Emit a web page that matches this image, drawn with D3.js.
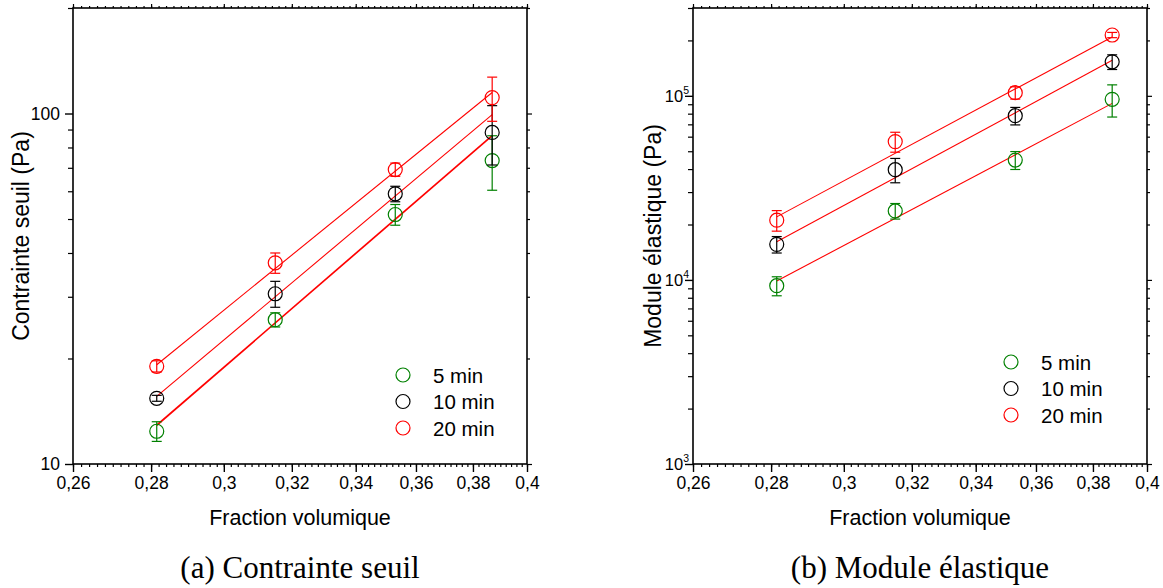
<!DOCTYPE html>
<html><head><meta charset="utf-8">
<script src="https://cdn.jsdelivr.net/npm/d3@7"></script>
<style>body{margin:0;background:#fff} svg{display:block;font-family:"Liberation Sans",Arial,sans-serif}</style>
</head><body>
<svg id="c" width="1163" height="588"></svg>
<script>
// ---------- data ----------
const xValues = [0.2815, 0.315, 0.353, 0.387];
const seriesNames = ["5 min", "10 min", "20 min"];
const seriesColors = ["#008000", "#000000", "#ff0000"];

// (a) Contrainte seuil (Pa)
const seuil5 = [12.4, 25.8, 51.5, 73.4];
const seuil5Err = [0.8, 1.2, 3.5, 13];
const seuil10 = [15.4, 30.6, 59.0, 88.3];
const seuil10Err = [0.3, 2.6, 3, 17];
const seuil20 = [19.0, 37.5, 69.2, 111];
const seuil20Err = [0.7, 2.5, 3, 16];

// (b) Module élastique (Pa)
const module5 = [9300, 23700, 44800, 95700];
const module5Err = [1100, 2300, 5000, 19000];
const module10 = [15600, 39700, 78000, 153000];
const module10Err = [1600, 6000, 8500, 14000];
const module20 = [21100, 56400, 104000, 214000];
const module20Err = [2700, 7000, 8000, 7000];

// fitted lines (end values)
const fitX = [0.2815, 0.387];
const fitSeuil5 = [12.9, 86.5];
const fitSeuil10 = [15.6, 99.3];
const fitSeuil20 = [19.2, 114.8];
const fitModule5 = [9860, 91000];
const fitModule10 = [16100, 156000];
const fitModule20 = [22000, 209000];

// ticks
const xTicks = [0.26, 0.28, 0.30, 0.32, 0.34, 0.36, 0.38, 0.40];
const xTickLabels = ["0,26", "0,28", "0,3", "0,32", "0,34", "0,36", "0,38", "0,4"];
const xMinorTicks = d3.range(130, 201).map(i => i / 500);
const seuilTicks = [10, 100];
const seuilTickLabels = ["10", "100"];
const seuilMinor = [20, 30, 40, 50, 60, 70, 80, 90, 200];
const moduleTicks = [1e3, 1e4, 1e5];
const moduleTickExp = ["3", "4", "5"];
const moduleMinor = [2e3,3e3,4e3,5e3,6e3,7e3,8e3,9e3,2e4,3e4,4e4,5e4,6e4,7e4,8e4,9e4,2e5,3e5];

// ---------- drawing ----------
const svg = d3.select("#c");
const yTop = 8, yBot = 464;

function panel(cfg) {
  const g = svg.append("g");
  const x = d3.scaleLog().domain([0.26, 0.4]).range([cfg.x0, cfg.x1]);
  const y = d3.scaleLog().domain(cfg.yDomain).range([yBot, yTop]);

  function tickAxis(axis, transform, size, vals) {
    const a = g.append("g").attr("transform", transform)
      .call(axis.tickValues(vals).tickSize(size).tickFormat(""));
    a.select(".domain").remove();
    a.selectAll("line").attr("stroke", "#000").attr("stroke-width", 1.2);
    return a;
  }
  // bottom
  tickAxis(d3.axisBottom(x), `translate(0,${yBot})`, 3, xMinorTicks);
  const bx = g.append("g").attr("transform", `translate(0,${yBot})`)
    .call(d3.axisBottom(x).tickValues(xTicks).tickSize(8).tickPadding(5)
      .tickFormat((d, i) => xTickLabels[i]));
  bx.select(".domain").remove();
  bx.selectAll("line").attr("stroke", "#000").attr("stroke-width", 1.4);
  bx.selectAll("text").attr("font-size", 17.5).attr("fill", "#000")
    .attr("font-family", "Liberation Sans, Arial, sans-serif");
  // top
  tickAxis(d3.axisTop(x), `translate(0,${yTop})`, 2, xMinorTicks);
  tickAxis(d3.axisTop(x), `translate(0,${yTop})`, 4, xTicks);
  // left
  tickAxis(d3.axisLeft(y), `translate(${cfg.x0},0)`, 5, cfg.minor);
  const ly = g.append("g").attr("transform", `translate(${cfg.x0},0)`)
    .call(d3.axisLeft(y).tickValues(cfg.major).tickSize(8).tickPadding(5)
      .tickFormat(cfg.sup ? () => "" : (d, i) => cfg.majorLabels[i]));
  ly.select(".domain").remove();
  ly.selectAll("line").attr("stroke", "#000").attr("stroke-width", 1.4);
  ly.selectAll("text").attr("font-size", 17.5).attr("fill", "#000")
    .attr("font-family", "Liberation Sans, Arial, sans-serif");
  if (cfg.sup) {
    cfg.major.forEach((v, i) => {
      const t = g.append("text").attr("x", cfg.x0 - 4).attr("y", y(v) + 6)
        .attr("text-anchor", "end").attr("font-size", 16.5);
      t.append("tspan").text("10");
      t.append("tspan").attr("font-size", 10.5).attr("dy", -8).text(cfg.majorLabels[i]);
    });
  }
  // right
  tickAxis(d3.axisRight(y), `translate(${cfg.x1},0)`, 3, cfg.minor);
  tickAxis(d3.axisRight(y), `translate(${cfg.x1},0)`, 5, cfg.major);

  // frame
  g.append("rect").attr("x", cfg.x0).attr("y", yTop)
    .attr("width", cfg.x1 - cfg.x0).attr("height", yBot - yTop)
    .attr("fill", "none").attr("stroke", "#000").attr("stroke-width", 1.6);

  // fit lines
  const line = d3.line().x((d, i) => x(fitX[i])).y(d => y(d));
  cfg.fits.forEach((f, k) => {
    g.append("path").attr("d", line(f)).attr("fill", "none")
      .attr("stroke", "#ff0000").attr("stroke-width", k === 0 && cfg.thickFirst ? 1.7 : 1.1);
  });

  // points with error bars
  cfg.series.forEach((s, k) => {
    const col = seriesColors[k];
    const sg = g.append("g").attr("stroke", col).attr("fill", "none").attr("stroke-width", 1.2);
    s.vals.forEach((v, i) => {
      const cx = x(xValues[i]);
      const yt = y(v + s.err[i]), yb = y(v - s.err[i]);
      sg.append("line").attr("x1", cx).attr("x2", cx).attr("y1", yt).attr("y2", yb);
      sg.append("line").attr("x1", cx - 5).attr("x2", cx + 5).attr("y1", yt).attr("y2", yt);
      sg.append("line").attr("x1", cx - 5).attr("x2", cx + 5).attr("y1", yb).attr("y2", yb);
      sg.append("circle").attr("cx", cx).attr("cy", y(v)).attr("r", 7);
    });
  });

  // legend
  seriesNames.forEach((n, k) => {
    const ly0 = cfg.legY + k * 26.5;
    g.append("circle").attr("cx", cfg.legX).attr("cy", ly0).attr("r", 7)
      .attr("fill", "none").attr("stroke", seriesColors[k]).attr("stroke-width", 1.2);
    g.append("text").attr("x", cfg.legX + 30).attr("y", ly0 + 7.5)
      .attr("font-size", 20.5).text(n);
  });

  // axis titles
  g.append("text").attr("x", (cfg.x0 + cfg.x1) / 2).attr("y", 525)
    .attr("text-anchor", "middle").attr("font-size", 21.5).text("Fraction volumique");
  g.append("text").attr("transform", `translate(${cfg.yTitleX},${(yTop + yBot) / 2}) rotate(-90)`)
    .attr("text-anchor", "middle").attr("font-size", 23).text(cfg.yTitle);
  // caption
  g.append("text").attr("x", (cfg.x0 + cfg.x1) / 2).attr("y", 578)
    .attr("text-anchor", "middle").attr("font-size", 31)
    .attr("font-family", "Liberation Serif, Times New Roman, serif").text(cfg.caption);
}

panel({
  x0: 73, x1: 527, yDomain: [10, 200],
  major: seuilTicks, majorLabels: seuilTickLabels, minor: seuilMinor, sup: false, thickFirst: true,
  fits: [fitSeuil5, fitSeuil10, fitSeuil20],
  series: [{vals: seuil5, err: seuil5Err}, {vals: seuil10, err: seuil10Err}, {vals: seuil20, err: seuil20Err}],
  legX: 403, legY: 375,
  yTitle: "Contrainte seuil (Pa)", yTitleX: 29,
  caption: "(a) Contrainte seuil"
});
panel({
  x0: 693, x1: 1147, yDomain: [1e3, 3e5],
  major: moduleTicks, majorLabels: moduleTickExp, minor: moduleMinor, sup: true, thickFirst: false,
  fits: [fitModule5, fitModule10, fitModule20],
  series: [{vals: module5, err: module5Err}, {vals: module10, err: module10Err}, {vals: module20, err: module20Err}],
  legX: 1011, legY: 362,
  yTitle: "Module élastique (Pa)", yTitleX: 661,
  caption: "(b) Module élastique"
});
</script>
</body></html>
